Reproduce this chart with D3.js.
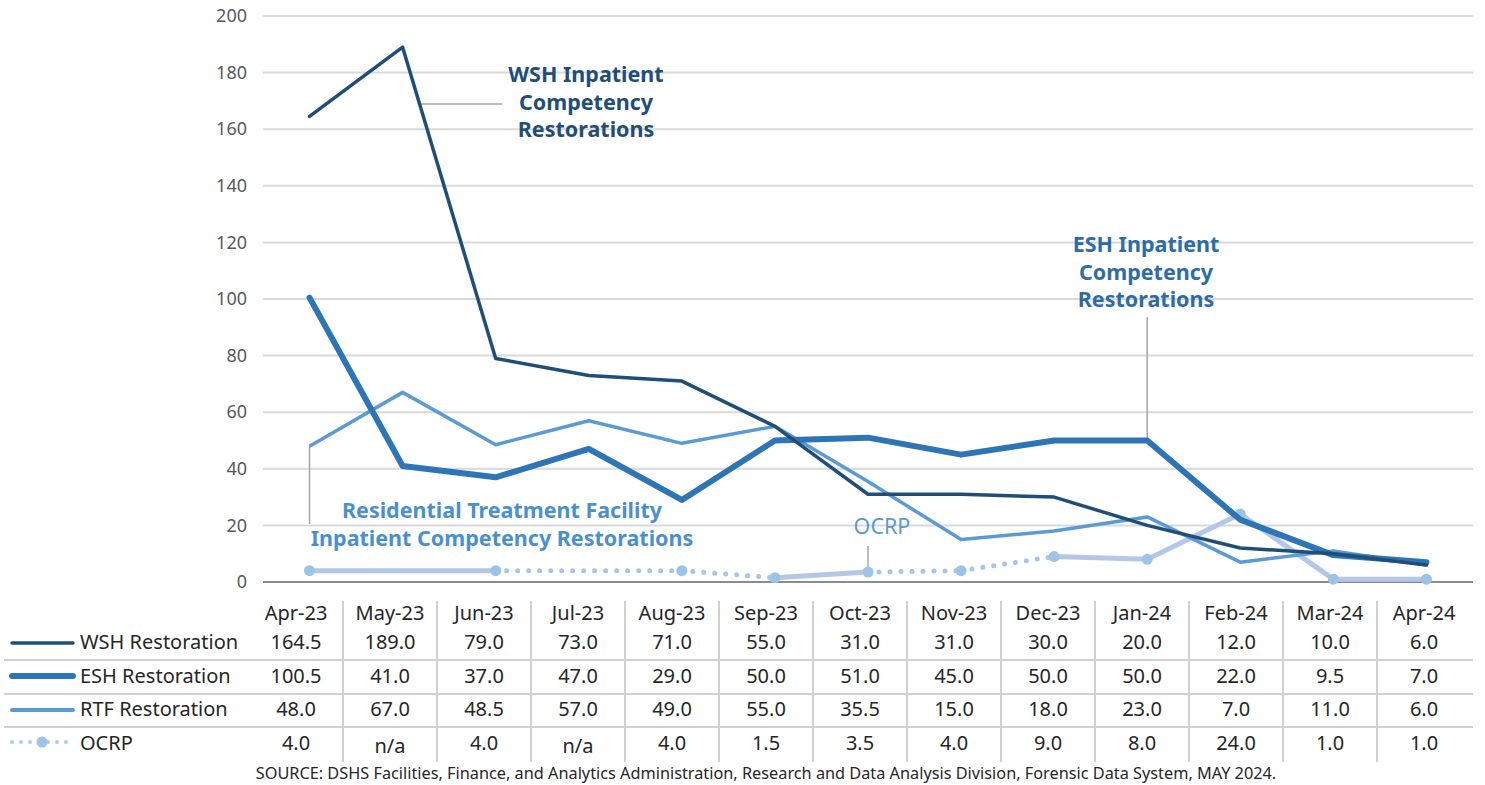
<!DOCTYPE html>
<html>
<head>
<meta charset="utf-8">
<title>Competency Restorations</title>
<script src="https://d3js.org/d3.v7.min.js"></script>
<style>
  body { margin: 0; background: #fff; }
  svg text { font-family: "Noto Sans", "Open Sans", sans-serif; }
</style>
</head>
<body>
<svg id="chart" width="1485" height="785"></svg>
<script>
// data
var months = ["Apr-23", "May-23", "Jun-23", "Jul-23", "Aug-23", "Sep-23", "Oct-23",
              "Nov-23", "Dec-23", "Jan-24", "Feb-24", "Mar-24", "Apr-24"];
var wsh  = [164.5, 189.0, 79.0, 73.0, 71.0, 55.0, 31.0, 31.0, 30.0, 20.0, 12.0, 10.0, 6.0];
var esh  = [100.5, 41.0, 37.0, 47.0, 29.0, 50.0, 51.0, 45.0, 50.0, 50.0, 22.0, 9.5, 7.0];
var rtf  = [48.0, 67.0, 48.5, 57.0, 49.0, 55.0, 35.5, 15.0, 18.0, 23.0, 7.0, 11.0, 6.0];
var ocrp = [4.0, null, 4.0, null, 4.0, 1.5, 3.5, 4.0, 9.0, 8.0, 24.0, 1.0, 1.0];
var yTicks = [0, 20, 40, 60, 80, 100, 120, 140, 160, 180, 200];
var rowNames = ["WSH Restoration", "ESH Restoration", "RTF Restoration", "OCRP"];
var sourceText = "SOURCE: DSHS Facilities, Finance, and Analytics Administration, Research and Data Analysis Division, Forensic Data System, MAY 2024.";

// how each OCRP piece between two reported months is drawn in the original
var ocrpDash = [false, true, true, false, true, true, false, false, false, false];

var svg = d3.select("#chart");

var x = d3.scaleBand().domain(months).range([263, 1473]);
var y = d3.scaleLinear().domain([0, 200]).range([582, 16]);
var cx = function(m) { return x(m) + x.bandwidth() / 2; };

// gridlines
svg.append("g").selectAll("line")
    .data(yTicks.filter(function(t) { return t > 0; }))
    .enter().append("line")
    .attr("x1", 263).attr("x2", 1473)
    .attr("y1", function(d) { return y(d); })
    .attr("y2", function(d) { return y(d); })
    .attr("stroke", "#d9d9d9").attr("stroke-width", 2);

svg.append("line")
    .attr("x1", 263).attr("x2", 1473).attr("y1", y(0)).attr("y2", y(0))
    .attr("stroke", "#8c8c8c").attr("stroke-width", 2);

// y axis labels
var yAxis = d3.axisLeft(y).tickValues(yTicks).tickSize(0).tickPadding(0);
var yg = svg.append("g").attr("transform", "translate(247,0)").call(yAxis);
yg.select(".domain").remove();
yg.selectAll("text").attr("fill", "#595959").style("font-size", "18px")
    .style("font-family", "'Noto Sans', sans-serif");

// annotation leaders (drawn under the lines)
var leader = svg.append("g").attr("stroke", "#a6a6a6").attr("stroke-width", 1.5);
leader.append("line").attr("x1", 421).attr("x2", 502).attr("y1", 104).attr("y2", 104);
leader.append("line").attr("x1", cx("Jan-24")).attr("x2", cx("Jan-24"))
    .attr("y1", 317).attr("y2", y(esh[9]));
leader.append("line").attr("x1", cx("Apr-23")).attr("x2", cx("Apr-23"))
    .attr("y1", y(rtf[0])).attr("y2", 524);
leader.append("line").attr("x1", cx("Oct-23")).attr("x2", cx("Oct-23"))
    .attr("y1", 546).attr("y2", y(ocrp[6]));

// OCRP pieces
var ocrpPts = [];
ocrp.forEach(function(v, i) { if (v !== null) ocrpPts.push({ m: months[i], v: v }); });
var pieces = [];
for (var i = 1; i < ocrpPts.length; i++) {
    pieces.push({ a: ocrpPts[i - 1], b: ocrpPts[i], dash: ocrpDash[i - 1] });
}
var og = svg.append("g");
og.selectAll("line").data(pieces).enter().append("line")
    .attr("x1", function(d) { return cx(d.a.m); })
    .attr("y1", function(d) { return y(d.a.v); })
    .attr("x2", function(d) { return cx(d.b.m); })
    .attr("y2", function(d) { return y(d.b.v); })
    .attr("stroke", function(d) { return d.dash ? "#a9c4e8" : "#b4c7e7"; })
    .attr("stroke-width", 5)
    .attr("stroke-linecap", "round")
    .attr("stroke-dasharray", function(d) { return d.dash ? "0 11" : null; });

// main lines
var line = d3.line()
    .x(function(d, i) { return cx(months[i]); })
    .y(function(d) { return y(d); });

svg.append("path").datum(rtf).attr("d", line)
    .attr("fill", "none").attr("stroke", "#5b9bd5").attr("stroke-width", 3.5)
    .attr("stroke-linejoin", "round");
svg.append("path").datum(esh).attr("d", line)
    .attr("fill", "none").attr("stroke", "#2e75b6").attr("stroke-width", 6)
    .attr("stroke-linejoin", "round").attr("stroke-linecap", "round");
svg.append("path").datum(wsh).attr("d", line)
    .attr("fill", "none").attr("stroke", "#1f4e79").attr("stroke-width", 3.5)
    .attr("stroke-linejoin", "round").attr("stroke-linecap", "round");

// OCRP markers on top
og.selectAll("circle").data(ocrpPts).enter().append("circle")
    .attr("cx", function(d) { return cx(d.m); })
    .attr("cy", function(d) { return y(d.v); })
    .attr("r", 5.5)
    .attr("fill", "#9dc3e6");

// annotations
function label(lines, xc, y0, color, weight, size) {
    var t = svg.append("text").attr("text-anchor", "middle")
        .attr("fill", color).style("font-size", size + "px").style("font-weight", weight);
    lines.forEach(function(s, k) {
        t.append("tspan").attr("x", xc).attr("y", y0 + k * 27.5).text(s);
    });
}
label(["WSH Inpatient", "Competency", "Restorations"], 586, 82, "#1f4e79", "bold", 21.5);
label(["ESH Inpatient", "Competency", "Restorations"], 1146, 252, "#2e6ca8", "bold", 21.5);
label(["Residential Treatment Facility", "Inpatient Competency Restorations"], 502, 518, "#4a90d0", "bold", 21.5);
label(["OCRP"], 882, 534, "#5b9bd5", "normal", 21.5);

// data table below the plot
var tx = d3.scaleBand().domain(months).range([249, 1471]);
var rowY = [642, 676, 709, 743];
var fs = "20px";
var tbl = svg.append("g");

tbl.selectAll(".sep").data(months.slice(1)).enter().append("line")
    .attr("x1", function(m) { return tx(m); }).attr("x2", function(m) { return tx(m); })
    .attr("y1", 601).attr("y2", 762)
    .attr("stroke", "#d0d0d0").attr("stroke-width", 2);

[660, 694, 727].forEach(function(yy) {
    tbl.append("line").attr("x1", 4).attr("x2", 1473).attr("y1", yy).attr("y2", yy)
        .attr("stroke", "#d0d0d0").attr("stroke-width", 2);
});

tbl.selectAll(".hdr").data(months).enter().append("text")
    .attr("x", function(m) { return tx(m) + tx.bandwidth() / 2; })
    .attr("y", 620).attr("text-anchor", "middle")
    .attr("fill", "#262626").style("font-size", fs)
    .text(function(m) { return m; });

[wsh, esh, rtf, ocrp].forEach(function(series, r) {
    tbl.append("g").selectAll("text").data(series).enter().append("text")
        .attr("x", function(d, i) { return tx(months[i]) + tx.bandwidth() / 2; })
        .attr("y", function(d) { return rowY[r] + 7 + (d === null ? 3 : 0); })
        .attr("text-anchor", "middle")
        .attr("fill", "#262626").style("font-size", fs)
        .text(function(d) { return d === null ? "n/a" : d.toFixed(1); });
    tbl.append("text").attr("x", 80).attr("y", rowY[r] + 7)
        .attr("fill", "#262626").style("font-size", fs)
        .text(rowNames[r]);
});

// legend keys
var keys = tbl.append("g");
keys.append("line").attr("x1", 12).attr("x2", 73).attr("y1", rowY[0] + 1).attr("y2", rowY[0] + 1)
    .attr("stroke", "#1f4e79").attr("stroke-width", 3.5).attr("stroke-linecap", "round");
keys.append("line").attr("x1", 12).attr("x2", 73).attr("y1", rowY[1]).attr("y2", rowY[1])
    .attr("stroke", "#2e75b6").attr("stroke-width", 6).attr("stroke-linecap", "round");
keys.append("line").attr("x1", 12).attr("x2", 73).attr("y1", rowY[2] + 1).attr("y2", rowY[2] + 1)
    .attr("stroke", "#5b9bd5").attr("stroke-width", 4).attr("stroke-linecap", "round");
keys.append("line").attr("x1", 12).attr("x2", 73).attr("y1", rowY[3] - 1).attr("y2", rowY[3] - 1)
    .attr("stroke", "#b4c7e7").attr("stroke-width", 4).attr("stroke-linecap", "round")
    .attr("stroke-dasharray", "0 9");
keys.append("circle").attr("cx", 42).attr("cy", rowY[3] - 1).attr("r", 5.5).attr("fill", "#9dc3e6");

svg.append("text").attr("x", 766).attr("y", 779).attr("text-anchor", "middle")
    .attr("fill", "#262626").style("font-size", "16.3px").text(sourceText);
</script>
</body>
</html>
